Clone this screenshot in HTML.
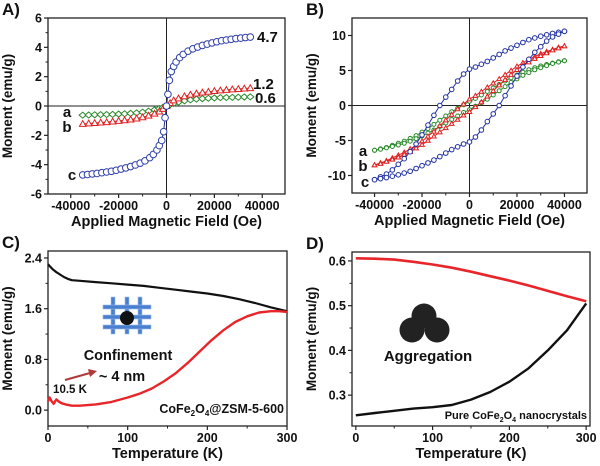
<!DOCTYPE html>
<html><head><meta charset="utf-8"><style>
body{margin:0;background:#fff;}
svg{display:block;font-family:"Liberation Sans",sans-serif;font-weight:bold;}
</style></head><body>
<svg id="fig" width="600" height="466" viewBox="0 0 600 466"></svg>
<script>
// Panel A data
const aH_c=[-35000,-33000,-31000,-29000,-27000,-25000,-23000,-21000,-19000,-17000,-15000,-13000,-11000,-9000,-7000,-5500,-4000,-3000,-2000,-1200,-600,0,600,1200,2000,3000,4000,5500,7000,9000,11000,13000,15000,17000,19000,21000,23000,25000,27000,29000,31000,33000,35000];
const aM_c=[-4.7,-4.67,-4.63,-4.6,-4.55,-4.5,-4.45,-4.38,-4.3,-4.22,-4.13,-4.02,-3.9,-3.74,-3.52,-3.3,-3.0,-2.7,-2.35,-1.75,-0.8,0,0.8,1.75,2.35,2.7,3.0,3.3,3.52,3.74,3.9,4.02,4.13,4.22,4.3,4.38,4.45,4.5,4.55,4.6,4.63,4.67,4.7];
const aH_b=[-35000,-32500,-30000,-27500,-25000,-22500,-20000,-17500,-15000,-12500,-10000,-7500,-5000,-3000,-1500,0,1500,3000,5000,7500,10000,12500,15000,17500,20000,22500,25000,27500,30000,32500,35000];
const aM_b=[-1.22,-1.19,-1.16,-1.13,-1.1,-1.06,-1.02,-0.97,-0.92,-0.85,-0.77,-0.66,-0.52,-0.38,-0.2,0,0.2,0.38,0.52,0.66,0.77,0.85,0.92,0.97,1.02,1.06,1.1,1.13,1.16,1.19,1.22];
const aH_a=[-35000,-32500,-30000,-27500,-25000,-22500,-20000,-17500,-15000,-12500,-10000,-7500,-5000,-3000,-1500,0,1500,3000,5000,7500,10000,12500,15000,17500,20000,22500,25000,27500,30000,32500,35000];
const aM_a=[-0.62,-0.61,-0.6,-0.59,-0.58,-0.57,-0.55,-0.53,-0.5,-0.47,-0.42,-0.35,-0.26,-0.17,-0.09,0,0.09,0.17,0.26,0.35,0.42,0.47,0.5,0.53,0.55,0.57,0.58,0.59,0.6,0.61,0.62];
// Panel B data (upper branch, H descending)
const bH=[40000,37500,35000,32500,30000,27500,25000,22500,20000,17500,15000,12500,10000,7500,5000,2500,0,-2500,-5000,-7500,-10000,-12500,-15000,-17500,-20000,-22500,-25000,-27500,-30000,-32500,-35000,-37500,-40000];
const bM_c=[10.6,10.45,10.3,10.1,9.9,9.65,9.4,9.0,8.6,8.2,7.8,7.3,6.8,6.3,5.9,5.5,5.2,4.5,3.5,2.3,1.2,0.0,-1.4,-2.8,-4.2,-5.5,-6.6,-7.6,-8.4,-9.2,-9.8,-10.2,-10.6];
const bM_b=[8.5,8.3,8.0,7.7,7.4,7.0,6.6,6.1,5.6,5.0,4.4,3.8,3.2,2.6,2.0,1.4,0.9,0.2,-0.5,-1.3,-2.1,-2.9,-3.7,-4.4,-5.1,-5.7,-6.2,-6.7,-7.1,-7.5,-7.9,-8.2,-8.5];
const bM_a=[6.4,6.25,6.05,5.85,5.65,5.4,5.1,4.75,4.35,3.95,3.5,3.0,2.5,2.0,1.5,1.0,0.6,0.1,-0.4,-0.9,-1.5,-2.1,-2.7,-3.3,-3.8,-4.3,-4.7,-5.1,-5.4,-5.7,-6.0,-6.2,-6.4];
// Panel C data
const cT_fc=[0,3,6,10,15,20,25,30,40,60,80,100,120,140,160,180,200,220,240,260,280,300];
const cM_fc=[2.3,2.26,2.22,2.18,2.14,2.1,2.07,2.05,2.04,2.02,2.0,1.98,1.96,1.93,1.9,1.87,1.84,1.8,1.75,1.69,1.62,1.56];
const cT_zfc=[0,2,4,7,10.5,13,17,22,30,40,50,60,80,100,115,130,145,160,175,190,205,220,235,250,265,280,290,300];
const cM_zfc=[0.14,0.2,0.15,0.1,0.17,0.14,0.11,0.09,0.07,0.07,0.08,0.09,0.13,0.2,0.26,0.34,0.45,0.58,0.74,0.92,1.1,1.26,1.39,1.48,1.54,1.56,1.56,1.55];
// Panel D data
const dT=[0,25,50,75,100,125,150,175,200,225,250,275,300];
const dM_fc=[0.606,0.605,0.603,0.598,0.592,0.585,0.576,0.566,0.556,0.545,0.533,0.521,0.51];
const dM_zfc=[0.255,0.26,0.265,0.27,0.273,0.278,0.29,0.307,0.33,0.36,0.4,0.445,0.505];
// ticks
const aXT=[-40000,-20000,0,20000,40000], aXL=["-40000","-20000","0","20000","40000"];
const aYT=[-6,-4,-2,0,2,4,6], aYL=["-6","-4","-2","0","2","4","6"];
const bYT=[-10,-5,0,5,10], bYL=["-10","-5","0","5","10"];
const cXT=[0,100,200,300], cXL=["0","100","200","300"];
const cYT=[0,0.8,1.6,2.4], cYL=["0.0","0.8","1.6","2.4"];
const dYT=[0.3,0.4,0.5,0.6], dYL=["0.3","0.4","0.5","0.6"];

const NS="http://www.w3.org/2000/svg";
const svg=document.getElementById('fig');
function mk(tag,at,parent){const e=document.createElementNS(NS,tag);for(const k in at)e.setAttribute(k,at[k]);(parent||svg).appendChild(e);return e;}
function txt(s,x,y,size,anchor,parent,extra){const t=mk('text',Object.assign({x:x,y:y,'font-size':size,'text-anchor':anchor||'middle',fill:'#111'},extra||{}),parent);t.textContent=s;return t;}

function panel(name,box,xd,yd,xt,xl,yt,yl,xtitle,letter,minorY){
  const g=mk('g',{});
  
  
  const sx=v=>box.x0+(v-xd[0])/(xd[1]-xd[0])*(box.x1-box.x0);
  const sy=v=>box.y1-(v-yd[0])/(yd[1]-yd[0])*(box.y1-box.y0);
  const fr=mk('rect',{x:box.x0,y:box.y0,width:box.x1-box.x0,height:box.y1-box.y0,fill:'none',stroke:'#222','stroke-width':1.3},g);
  
  
  const xa=mk('g',{},g);
  
  
  xt.forEach((v,i)=>{mk('line',{x1:sx(v),x2:sx(v),y1:box.y1,y2:box.y1+4,stroke:'#222','stroke-width':1.2},xa);
    const t=txt(xl[i],sx(v),box.y1+16,12.5,'middle',xa);
    
    
    if(i<xt.length-1){const m=(v+xt[i+1])/2;mk('line',{x1:sx(m),x2:sx(m),y1:box.y1,y2:box.y1+2.5,stroke:'#222'},xa);}
  });
  const ya=mk('g',{},g);
  
  
  yt.forEach((v,i)=>{mk('line',{x1:box.x0-4,x2:box.x0,y1:sy(v),y2:sy(v),stroke:'#222','stroke-width':1.2},ya);
    const t=txt(yl[i],box.x0-6,sy(v)+4.5,12.5,'end',ya);
    
    
    if(minorY && i<yt.length-1){const m=(v+yt[i+1])/2;mk('line',{x1:box.x0-2.5,x2:box.x0,y1:sy(m),y2:sy(m),stroke:'#222'},ya);}
  });
  const xtl=txt(xtitle,(box.x0+box.x1)/2,box.y1+32,14.5,'middle',g);
  
  
  const cy=(box.y0+box.y1)/2, cx=box.x0-36;
  const ytl=txt('Moment (emu/g)',cx,cy,13.5,'middle',g,{transform:'rotate(-90 '+cx+' '+cy+')'});
  
  
  const pl=txt(letter,box.x0-46,box.y0-3,17,'start',g);
  
  
  return {g,sx,sy};
}
function line(P,xs,ys,color,w,name){
  const d=xs.map((x,i)=>(i?'L':'M')+P.sx(x).toFixed(1)+' '+P.sy(ys[i]).toFixed(1)).join(' ');
  const p=mk('path',{d:d,fill:'none',stroke:color,'stroke-width':w,'stroke-linejoin':'round'},P.g);
  
  
  return p;
}
function markers(P,xs,ys,color,shape,r,name){
  const g=mk('g',{fill:'#fff',stroke:color,'stroke-width':1},P.g);
  
  
  xs.forEach((x,i)=>{const X=P.sx(x),Y=P.sy(ys[i]);
    if(shape==='c')mk('circle',{cx:X,cy:Y,r:r},g);
    else if(shape==='t')mk('polygon',{points:`${X},${Y-r} ${X-r},${Y+r*0.75} ${X+r},${Y+r*0.75}`},g);
    else mk('polygon',{points:`${X},${Y-r} ${X+r*1.2},${Y} ${X},${Y+r} ${X-r*1.2},${Y}`},g);
  });
}
function zeroLines(P,xd,yd){
  mk('line',{x1:P.sx(0),x2:P.sx(0),y1:P.sy(yd[0]),y2:P.sy(yd[1]),stroke:'#222','stroke-width':1},P.g);
  mk('line',{x1:P.sx(xd[0]),x2:P.sx(xd[1]),y1:P.sy(0),y2:P.sy(0),stroke:'#222','stroke-width':1},P.g);
}

// Panel A
const A=panel('panel-a',{x0:48,x1:285,y0:18,y1:194},[-49500,49500],[-6,6],aXT,aXL,aYT,aYL,'Applied Magnetic Field (Oe)','A)',true);
zeroLines(A,[-49500,49500],[-6,6]);
line(A,aH_a,aM_a,'#2a8a2a',1,'series-a-line');markers(A,aH_a,aM_a,'#2a8a2a','d',3,'series-a-markers');
line(A,aH_b,aM_b,'#e02020',1,'series-b-line');markers(A,aH_b,aM_b,'#e02020','t',3.3,'series-b-markers');
line(A,aH_c,aM_c,'#2030a0',1,'series-c-line');markers(A,aH_c,aM_c,'#3040a8','c',3.3,'series-c-markers');
[['4.7',257,42],['1.2',253,89],['0.6',255,103]].forEach(a=>{const t=txt(a[0],a[1],a[2],15,'start',A.g);});
[['a',67,117],['b',67,132],['c',72,180]].forEach(a=>{const t=txt(a[0],a[1],a[2],15,'middle',A.g);});

// Panel B
const B=panel('panel-b',{x0:352,x1:587,y0:18,y1:193},[-49500,49500],[-12.5,12.5],aXT,aXL,bYT,bYL,'Applied Magnetic Field (Oe)','B)',false);
zeroLines(B,[-49500,49500],[-12.5,12.5]);
[['a',bM_a,'#2a8a2a','c',2],['b',bM_b,'#e02020','t',2.3],['c',bM_c,'#2030a0','c',2.3]].forEach(s=>{
  const lowH=bH.map(h=>-h), lowM=s[1].map(m=>-m);
  line(B,bH,s[1],s[2],1,'loop-'+s[0]+'-upper');line(B,lowH,lowM,s[2],1,'loop-'+s[0]+'-lower');
  markers(B,bH,s[1],s[2],s[3],s[4],'loop-'+s[0]+'-upper-markers');markers(B,lowH,lowM,s[2],s[3],s[4],'loop-'+s[0]+'-lower-markers');
});
[['a',363,156],['b',363,171],['c',365,187]].forEach(a=>{const t=txt(a[0],a[1],a[2],15,'middle',B.g);});

// Panel C
const C=panel('panel-c',{x0:48,x1:287,y0:251,y1:426},[0,300],[-0.25,2.51],cXT,cXL,cYT,cYL,'Temperature (K)','C)',true);
line(C,cT_fc,cM_fc,'#111',2.2,'fc-curve');
line(C,cT_zfc,cM_zfc,'#e8262a',2.4,'zfc-curve');
(function(){const g=mk('g',{},C.g);


[113,127,140].forEach(x=>mk('rect',{x:x-2,y:297,width:4,height:37,fill:'#4a7fd0',stroke:'#9bbbe8','stroke-width':0.6},g));
[307,317,327].forEach(y=>mk('rect',{x:103,y:y-2,width:48,height:4,fill:'#4a7fd0',stroke:'#9bbbe8','stroke-width':0.6},g));
mk('circle',{cx:127,cy:318,r:7,fill:'#111'},g);})();
[['Confinement',128,360,14.5],['~ 4 nm',122,381,14.5],['10.5 K',70,393,11.5]].forEach(a=>{const t=txt(a[0],a[1],a[2],a[3],'middle',C.g);});
(function(){const ar=mk('g',{},C.g);


mk('line',{x1:65,y1:380,x2:90,y2:373,stroke:'#b03a3a','stroke-width':2.2},ar);
mk('polygon',{points:'97,371 88,369 90,377',fill:'#b03a3a'},ar);})();
(function(){const t=mk('text',{x:284,y:413,'font-size':12.5,'text-anchor':'end',fill:'#111'},C.g);


t.innerHTML='CoFe<tspan font-size="8" dy="3">2</tspan><tspan dy="-3">O</tspan><tspan font-size="8" dy="3">4</tspan><tspan dy="-3">@ZSM-5-600</tspan>';})();

// Panel D
const D=panel('panel-d',{x0:352,x1:590,y0:252,y1:426},[-5,305],[0.231,0.62],cXT,cXL,dYT,dYL,'Temperature (K)','D)',true);
line(D,dT,dM_fc,'#e8262a',2.6,'fc-curve');
line(D,dT,dM_zfc,'#111',2.4,'zfc-curve');
(function(){const g=mk('g',{fill:'#222'},D.g);


mk('circle',{cx:424,cy:316,r:12.5},g);mk('circle',{cx:412,cy:330,r:12.5},g);mk('circle',{cx:437,cy:330,r:12.5},g);})();
(function(){const t=txt('Aggregation',428,361,15,'middle',D.g);})();
(function(){const t=mk('text',{x:587,y:419,'font-size':11,'text-anchor':'end',fill:'#111'},D.g);


t.innerHTML='Pure CoFe<tspan font-size="7" dy="3">2</tspan><tspan dy="-3">O</tspan><tspan font-size="7" dy="3">4</tspan><tspan dy="-3"> nanocrystals</tspan>';})();
</script>
</body></html>
